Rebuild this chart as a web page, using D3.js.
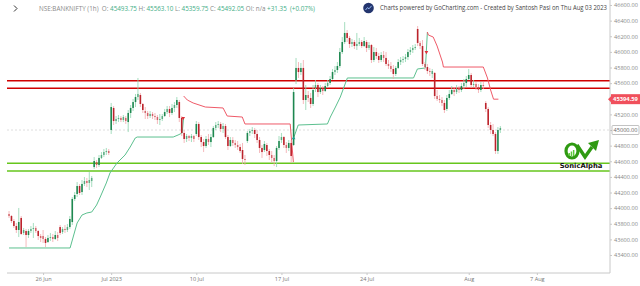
<!DOCTYPE html>
<html>
<head>
<meta charset="utf-8">
<script src="https://cdn.jsdelivr.net/npm/d3@7"></script>
<style>
  body { margin: 0; background: #fff; }
  svg { display: block; font-family: "Open Sans", Roboto, sans-serif; }
</style>
</head>
<body>
<div id="chart"></div>
<script>
// BANKNIFTY 1h candles, 22 Jun - 2 Aug 2023, 7 bars per session
var opens = [
  43925,43899,43835,43771,43720,43874,43682, 43707,43656,43707,43733,43746,43707,43643,
  43643,43605,43566,43618,43630,43605,43656, 43758,43694,43733,43720,43758,43822,44117,
  44181,44283,44206,44309,44347,44322,44347, 44526,44590,44552,44642,44680,44718,44731,
  45000,45282,45115,45141,45154,45128,45154, 45102,45218,45282,45358,45422,45448,45333,
  45243,45218,45179,45205,45179,45166,45128, 45141,45179,45230,45269,45218,45282,45320,
  45358,45154,44962,44885,44923,44898,44923, 44949,45077,44910,44846,44795,44885,44846,
  44910,45026,45064,45077,45013,45051,44910, 44795,44872,44834,44808,44782,44744,44629,
  44859,44962,44987,45000,44949,44872,44770, 44744,44808,44731,44680,44642,44603,44770,
  44872,44910,44808,44770,44834,44808,45640, 45794,45742,45794,45384,45448,45410,45333,
  45538,45576,45486,45538,45499,45563,45602, 45653,45742,45768,45819,45998,46126,46242,
  46178,46101,46126,46075,46101,46126,46075, 46126,46050,46088,45896,45998,45947,45896,
  45960,45922,45845,45819,45781,45717,45794, 45870,45896,45909,45934,45998,46024,46050,
  46293,46114,46075,45845,45806,45755,45717, 45730,45435,45397,45384,45346,45269,45410,
  45461,45512,45486,45525,45512,45563,45602, 45653,45704,45576,45589,45550,45512,45576,
  45346,45269,45064,45000,44949,44731,45000
];
var highs = [
  43963,43912,43861,43810,44002,43899,43746, 43733,43733,43771,43810,43771,43720,43669,
  43720,43630,43656,43682,43669,43707,43694, 43784,43758,43784,43797,43899,44142,44206,
  44334,44309,44360,44398,44386,44462,44411, 44654,44616,44680,44718,44757,44770,44757,
  45346,45307,45179,45192,45179,45192,45179, 45256,45320,45397,45461,45666,45474,45346,
  45294,45243,45243,45230,45218,45192,45205, 45205,45269,45307,45307,45333,45358,45422,
  45384,45179,45000,44949,44936,44949,44936, 45115,45102,44936,44885,44923,44949,44949,
  45051,45102,45115,45102,45090,45077,44936, 44910,44910,44872,44859,44821,44834,44680,
  44987,45013,45038,45026,45000,44910,44808, 44859,44834,44757,44731,44680,44795,44923,
  44962,44923,44846,44872,44872,45538,45922, 45870,45858,45896,45576,45499,45474,45576,
  45640,45602,45576,45563,45602,45640,45691, 45781,45819,45870,46050,46190,46382,46280,
  46203,46165,46152,46242,46178,46152,46190, 46152,46126,46101,46062,46050,45986,45998,
  46011,45998,45896,45870,45832,45819,45909, 45934,45947,45973,46037,46062,46088,46101,
  46331,46139,46152,45870,45845,45794,45781, 45742,45512,45448,45422,45384,45448,45512,
  45563,45550,45576,45563,45602,45653,45691, 45781,45730,45640,45614,45589,45614,45614,
  45371,45294,45102,45077,44974,45038,45051
];
var lows = [
  43874,43810,43746,43682,43630,43656,43656, 43502,43618,43682,43618,43682,43592,43566,
  43554,43502,43554,43579,43566,43592,43579, 43656,43669,43682,43694,43733,43784,44091,
  44142,44168,44168,44283,44270,44232,44270, 44501,44514,44526,44629,44654,44680,44680,
  44949,45064,45077,45102,45102,45102,45077, 44974,45154,45243,45294,45384,45294,45218,
  45141,45141,45154,45141,45128,45077,45064, 45115,45166,45205,45166,45192,45230,45282,
  45102,44923,44834,44846,44859,44846,44846, 44923,44872,44782,44718,44770,44808,44782,
  44898,45000,45026,44974,44962,44885,44744, 44782,44795,44770,44744,44706,44565,44552,
  44834,44923,44949,44898,44834,44706,44642, 44718,44667,44616,44578,44539,44526,44744,
  44834,44770,44706,44731,44578,44795,45589, 45666,45704,45333,45256,45358,45282,45307,
  45486,45422,45461,45448,45486,45538,45576, 45640,45704,45730,45794,45973,46101,46126,
  46050,46062,46037,46024,46075,46050,46062, 45998,46024,45858,45870,45909,45858,45870,
  45870,45819,45781,45742,45653,45691,45781, 45832,45858,45870,45896,45960,45986,46024,
  46075,46037,45819,45768,45717,45691,45666, 45397,45371,45346,45307,45218,45243,45384,
  45448,45435,45461,45474,45486,45525,45550, 45640,45538,45550,45512,45474,45486,45525,
  45230,45026,44949,44923,44693,44693,44962
];
var closes = [
  43899,43835,43771,43720,43822,43669,43720, 43656,43707,43733,43746,43707,43643,43618,
  43605,43554,43618,43630,43605,43656,43618, 43682,43733,43720,43758,43861,44117,44168,
  44283,44194,44309,44347,44322,44360,44386, 44603,44552,44642,44680,44718,44731,44706,
  45294,45115,45141,45154,45128,45166,45115, 45218,45282,45358,45422,45461,45333,45256,
  45218,45179,45205,45179,45166,45128,45141, 45179,45230,45269,45218,45282,45320,45384,
  45154,44962,44885,44923,44898,44923,44885, 45077,44910,44846,44795,44885,44846,44910,
  45026,45064,45077,45013,45051,44910,44795, 44872,44834,44808,44782,44731,44629,44616,
  44962,44987,45000,44949,44872,44770,44718, 44821,44731,44680,44642,44603,44770,44859,
  44910,44808,44770,44834,44667,45486,45794, 45742,45794,45384,45448,45410,45333,45512,
  45576,45486,45538,45499,45563,45602,45653, 45742,45768,45819,45998,46126,46242,46178,
  46101,46126,46075,46101,46126,46075,46139, 46050,46088,45896,45998,45947,45896,45960,
  45922,45845,45819,45781,45717,45794,45870, 45896,45909,45934,45998,46024,46050,46062,
  46114,46075,45845,45806,45755,45742,45755, 45435,45397,45384,45346,45256,45410,45461,
  45512,45486,45525,45512,45563,45602,45653, 45704,45576,45589,45550,45512,45576,45563,
  45269,45064,45000,44949,44731,45000,45026
];

// supertrend vertices: [bar, value]
var stGreen1 = [[0,43490],[25.1,43490],[28,43810],[30,43912],[32,43938],[34,43950],[36,44040],
  [37.5,44142],[40,44322],[41.5,44450],[44.4,44578],[47.7,44680],[49.8,44782],[51.9,44898],
  [52.7,44910],[67.5,44910],[69.5,44936],[71.2,44962],[71.8,45166]];
var stRed1 = [[71.8,45435],[73.3,45384],[75.7,45346],[80.7,45294],[88,45282],[89.7,45179],
  [95.9,45166],[97,45077],[115.6,45077],[116.9,44590]];
var stGreen2 = [[117,44898],[118.9,45064],[130.9,45077],[132.1,45166],[134.2,45294],
  [136.2,45422],[139.1,45666],[166.3,45666],[167.9,45781],[171.2,45794],[172,46254]];
var stRed2 = [[172,46254],[172.4,46216],[174.4,46190],[176,46075],[178.2,45870],[178.6,45806],
  [195,45806],[196.7,45666],[198,45512],[199.2,45394.59],[201.2,45394.59]];
var buySignals = [[117,44894]];
var sellSignals = [[71.6,45154],[171.6,45998]];

var redLevels = [45631, 45534];
var greenLevels = [44574, 44475];
var markLevel = 45000;
var lastSt = 45394.59;

var yTicks = [43400,43600,43800,44000,44200,44400,44600,44800,45000,45200,45400,45600,45800,46000,46200,46400,46600];
var xTickBars = [14, 42, 77, 112, 147, 189, 217];
var xTickLabels = ['26 Jun', 'Jul 2023', '10 Jul', '17 Jul', '24 Jul', 'Aug', '7 Aug'];

var W = 640, H = 286;
var left = 7, right = 610, bottom = 273;
var svg = d3.select('#chart').append('svg').attr('width', W).attr('height', H);

var x = d3.scaleLinear().domain([-1, 247]).range([6.6, 609.8]);
var y = d3.scaleLinear().domain([43400, 46600]).range([255, 5]);

var up = '#0d7d43', down = '#b5121b';

// levels
svg.append('line').attr('x1', left).attr('x2', right)
  .attr('y1', y(markLevel)).attr('y2', y(markLevel))
  .attr('stroke', '#d6d6d6').attr('stroke-width', 0.8).attr('stroke-dasharray', '2,2');

svg.selectAll('line.red').data(redLevels).enter().append('line').attr('class', 'red')
  .attr('x1', left).attr('x2', right)
  .attr('y1', function (d) { return y(d); }).attr('y2', function (d) { return y(d); })
  .attr('stroke', '#d00000').attr('stroke-width', 1.5);
svg.selectAll('line.green').data(greenLevels).enter().append('line').attr('class', 'green')
  .attr('x1', left).attr('x2', right)
  .attr('y1', function (d) { return y(d); }).attr('y2', function (d) { return y(d); })
  .attr('stroke', '#66c61c').attr('stroke-width', 1.5);

// supertrend
var line = d3.line().x(function (d) { return x(d[0]); }).y(function (d) { return y(d[1]); });
[[stGreen1, '#5cc08f'], [stRed1, '#ef5a68'], [stGreen2, '#5cc08f'], [stRed2, '#ef5a68']].forEach(function (s) {
  svg.append('path').datum(s[0]).attr('d', line)
    .attr('fill', 'none').attr('stroke', s[1]).attr('stroke-width', 1);
});

// candles
var candles = d3.range(closes.length).map(function (i) {
  return { i: i, o: opens[i], h: highs[i], l: lows[i], c: closes[i] };
});
var g = svg.append('g');
g.selectAll('line.wick').data(candles).enter().append('line').attr('class', 'wick')
  .attr('x1', function (d) { return x(d.i); }).attr('x2', function (d) { return x(d.i); })
  .attr('y1', function (d) { return y(d.h); }).attr('y2', function (d) { return y(d.l); })
  .attr('stroke', function (d) { return d.c >= d.o ? '#8fd6b0' : '#f2a7ab'; })
  .attr('stroke-width', 0.8);
g.selectAll('rect').data(candles).enter().append('rect')
  .attr('x', function (d) { return x(d.i) - 0.8; })
  .attr('width', 1.6)
  .attr('y', function (d) { return y(Math.max(d.o, d.c)); })
  .attr('height', function (d) { return Math.max(1, Math.abs(y(d.o) - y(d.c))); })
  .attr('fill', function (d) { return d.c >= d.o ? up : down; })
  .attr('fill-opacity', function (d) { return Math.abs(d.c - d.o) < 40 ? 0.55 : 0.9; });

// signals
svg.selectAll('path.buy').data(buySignals).enter().append('path').attr('class', 'buy')
  .attr('d', d3.symbol().type(d3.symbolTriangle).size(6))
  .attr('transform', function (d) { return 'translate(' + x(d[0]) + ',' + y(d[1]) + ')'; })
  .attr('fill', '#1f9e8f');
svg.selectAll('path.sell').data(sellSignals).enter().append('path').attr('class', 'sell')
  .attr('d', d3.symbol().type(d3.symbolTriangle).size(6))
  .attr('transform', function (d) { return 'translate(' + x(d[0]) + ',' + y(d[1]) + ') rotate(180)'; })
  .attr('fill', '#e0303a');

// axes
svg.append('line').attr('x1', right).attr('x2', right).attr('y1', 0).attr('y2', bottom)
  .attr('stroke', '#c8c8c8').attr('stroke-width', 1);
svg.append('line').attr('x1', left).attr('x2', right).attr('y1', bottom).attr('y2', bottom)
  .attr('stroke', '#c8c8c8').attr('stroke-width', 1);

var yAxis = svg.append('g').attr('transform', 'translate(' + right + ',0)')
  .call(d3.axisRight(y).tickValues(yTicks).tickFormat(d3.format('.2f')).tickSize(2).tickPadding(2));
yAxis.select('.domain').remove();
yAxis.selectAll('line').attr('stroke', '#c8c8c8');
yAxis.selectAll('text').attr('fill', '#8a8a8a').style('font-size', '5.6px')
  .style('font-family', '"Open Sans", Roboto, sans-serif');

var xAxis = svg.append('g').attr('transform', 'translate(0,' + bottom + ')')
  .call(d3.axisBottom(x).tickValues(xTickBars)
    .tickFormat(function (d, i) { return xTickLabels[i]; }).tickSize(2).tickPadding(2));
xAxis.select('.domain').remove();
xAxis.selectAll('line').attr('stroke', '#c8c8c8');
xAxis.selectAll('text').attr('fill', '#777').style('font-size', '5.6px')
  .style('font-family', '"Open Sans", Roboto, sans-serif');

// price labels on the axis
var mk = svg.append('g').attr('transform', 'translate(612,' + y(markLevel) + ')');
mk.append('rect').attr('x', 0).attr('y', -4.5).attr('width', 27).attr('height', 9)
  .attr('fill', '#fff').attr('stroke', '#9a9a9a').attr('stroke-width', 0.6).attr('rx', 1);
mk.append('text').attr('x', 13.5).attr('y', 2).attr('text-anchor', 'middle')
  .attr('fill', '#666').style('font-size', '5.6px').text(d3.format('.2f')(markLevel));

var st = svg.append('g').attr('transform', 'translate(611,' + y(lastSt) + ')');
st.append('rect').attr('x', 0).attr('y', -5).attr('width', 29).attr('height', 10)
  .attr('fill', '#f0505c');
st.append('path').attr('d', 'M0,-3L-3,0L0,3Z').attr('fill', '#f0505c');
st.append('text').attr('x', 14.5).attr('y', 2).attr('text-anchor', 'middle')
  .attr('fill', '#fff').style('font-size', '5.8px').style('font-weight', 'bold').text(lastSt);

// header
svg.append('path').attr('d', 'M14,5.5L17,8.5L14,11.5').attr('fill', 'none')
  .attr('stroke', '#333').attr('stroke-width', 1);
var hdr = svg.append('text').attr('x', 39).attr('y', 10.5).style('font-size', '6.3px');
var parts = [['NSE:BANKNIFTY (1h)  ', '#8a8a8a'], ['O: ', '#8a8a8a'], ['45493.75 ', '#3fae86'],
  ['H: ', '#8a8a8a'], ['45563.10 ', '#3fae86'], ['L: ', '#8a8a8a'], ['45359.75 ', '#3fae86'],
  ['C: ', '#8a8a8a'], ['45492.05 ', '#3fae86'], ['OI: ', '#8a8a8a'], ['n/a ', '#8a8a8a'],
  ['+31.35  (+0.07%)', '#3fae86']];
parts.forEach(function (p) {
  hdr.append('tspan').attr('fill', p[1]).attr('xml:space', 'preserve').text(p[0]);
});

svg.append('circle').attr('cx', 368.5).attr('cy', 8).attr('r', 5.3).attr('fill', '#23356e');
svg.append('path').attr('d', 'M365.5,10L367.5,7.6L369,8.8L371.6,5.8').attr('fill', 'none')
  .attr('stroke', '#9fc4ff').attr('stroke-width', 0.9);
svg.append('text').attr('x', 380).attr('y', 10.3).attr('fill', '#444').style('font-size', '6.2px')
  .attr('textLength', 227).attr('lengthAdjust', 'spacingAndGlyphs')
  .text('Charts powered by GoCharting.com - Created by Santosh Pasi on Thu Aug 03 2023');

// watermark logo
var logo = svg.append('g');
logo.append('ellipse').attr('cx', 572).attr('cy', 151).attr('rx', 6).attr('ry', 7)
  .attr('fill', 'none').attr('stroke', '#2f9a12').attr('stroke-width', 3.2);
logo.append('path').attr('d', 'M577,145L585,157L592,147').attr('fill', 'none')
  .attr('stroke', '#2f9a12').attr('stroke-width', 3.4);
logo.append('path').attr('d', 'M588,143L599,140L596,151Z').attr('fill', '#2f9a12');
[[568.5, 3], [570.7, 4.5], [572.9, 6]].forEach(function (b) {
  logo.append('rect').attr('x', b[0]).attr('y', 156 - b[1]).attr('width', 1.5).attr('height', b[1])
    .attr('fill', '#5cc93a');
});
logo.append('text').attr('x', 581).attr('y', 168).attr('text-anchor', 'middle')
  .style('font-family', '"DejaVu Sans", sans-serif').style('font-weight', 'bold')
  .style('font-size', '6.8px').attr('fill', '#111').text('SonicAlpha');
</script>
</body>
</html>
